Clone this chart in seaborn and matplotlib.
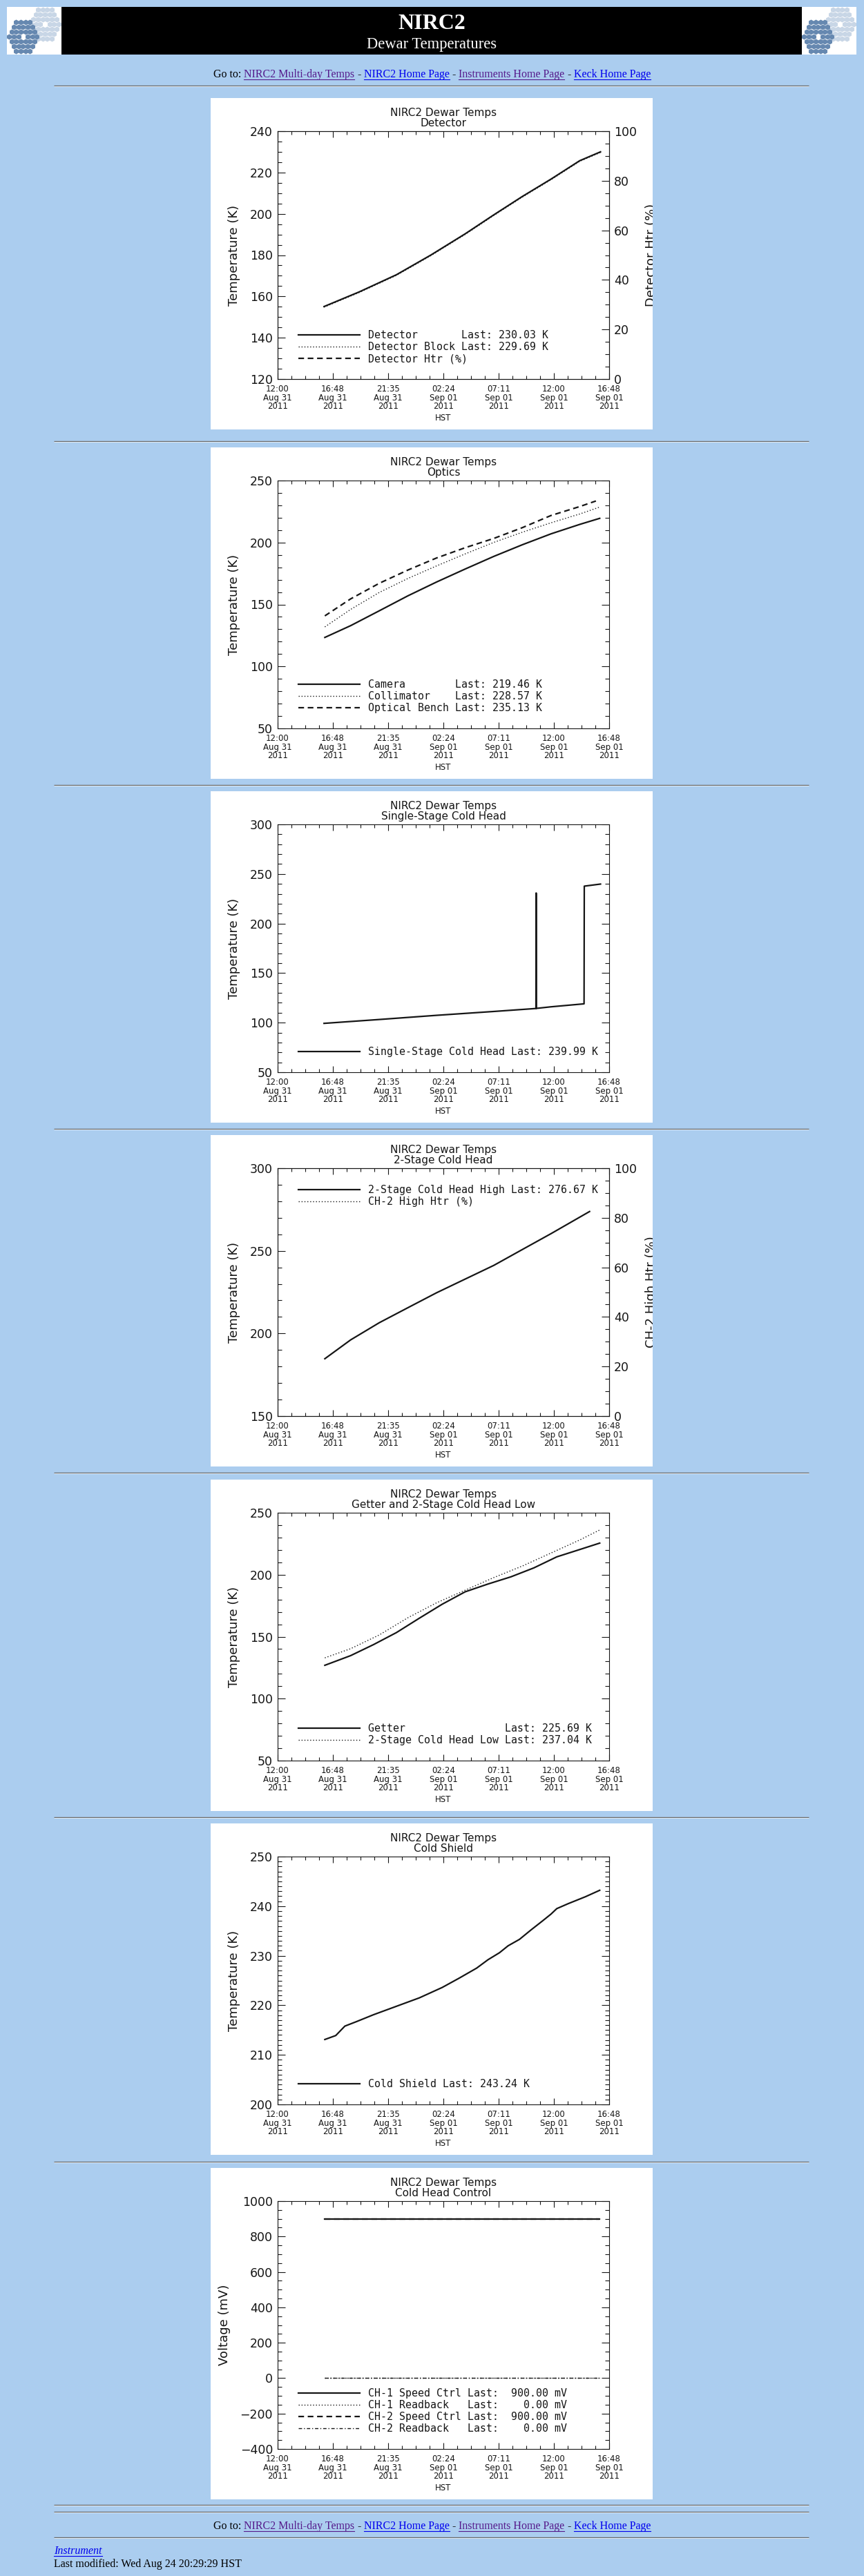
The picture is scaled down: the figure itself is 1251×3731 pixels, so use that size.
import matplotlib
matplotlib.use("Agg")
import matplotlib.pyplot as plt
from matplotlib.font_manager import FontProperties
from matplotlib.lines import Line2D
from matplotlib.patches import Rectangle
from matplotlib.ticker import MultipleLocator
import seaborn as sns

W, H, DPI = 1251, 3731, 100
PAGE_BG = "#abcdef"
INK = "#151515"
LINK = "#0000ee"
VISITED = "#551a8b"

# ---------------- data (hours after 12:00 HST, Aug 31 2011) ----------------
TIME_TICKS = [0.0, 4.8, 9.6, 14.4, 19.2, 24.0, 28.8]
TIME_LABELS = ["12:00\nAug 31\n2011", "16:48\nAug 31\n2011", "21:35\nAug 31\n2011",
               "02:24\nSep 01\n2011", "07:11\nSep 01\n2011", "12:00\nSep 01\n2011",
               "16:48\nSep 01\n2011"]

DET_T = [4.03, 7.09, 10.32, 13.30, 16.29, 18.78, 21.26, 23.75, 26.24, 28.05]
DET_TEMP = [155.1, 162.2, 170.5, 180.0, 190.3, 199.5, 208.4, 216.8, 225.7, 230.0]
DET_BLOCK = [154.8, 161.9, 170.2, 179.7, 190.0, 199.2, 208.1, 216.5, 225.4, 229.7]

OPT_T = [4.1, 6.34, 8.83, 11.32, 13.8, 16.29, 18.78, 21.26, 23.75, 26.24, 27.98]
CAMERA = [123.4, 132.9, 144.9, 157.0, 168.1, 178.6, 188.8, 198.2, 207.0, 214.6, 219.5]
COLLIMATOR = [131.9, 146.0, 159.7, 171.0, 181.1, 190.8, 200.1, 208.3, 215.9, 223.0, 228.6]
BENCH_T = [4.1, 6.34, 8.83, 11.32, 13.8, 16.29, 18.78, 21.26, 23.75, 26.24, 27.65]
BENCH = [140.8, 154.5, 167.1, 177.8, 187.5, 195.8, 203.3, 212.0, 221.8, 229.0, 233.5]

SS_T = [4.03, 8.83, 13.8, 18.78, 22.44, 22.46, 22.48, 23.75, 26.62, 26.64, 28.05]
SS_TEMP = [99.3, 103.2, 107.4, 111.3, 114.3, 230.8, 114.4, 116.0, 119.0, 237.7, 239.8]

HI_T = [4.1, 6.34, 8.83, 11.32, 13.8, 16.29, 18.78, 21.26, 23.75, 27.1]
HI_TEMP = [184.7, 196.1, 206.5, 215.6, 224.6, 232.9, 241.2, 250.8, 260.4, 273.8]

GETTER_T = [4.1, 6.34, 8.33, 10.32, 12.31, 14.3, 16.29, 18.28, 20.27, 22.26, 24.25, 26.24, 27.98]
GETTER = [126.9, 134.7, 143.6, 153.3, 164.9, 176.2, 186.2, 192.5, 198.3, 205.5, 214.4, 220.3, 225.5]
LOW_T = [4.1, 6.34, 8.83, 11.32, 13.8, 16.29, 18.78, 21.26, 23.75, 26.24, 27.98]
LOW = [132.9, 140.3, 151.4, 165.3, 177.3, 187.5, 197.7, 207.0, 217.5, 228.0, 236.1]

CS_T = [4.1, 5.05, 5.84, 6.84, 8.33, 10.32, 12.31, 14.3, 15.79, 17.29, 18.28,
        19.27, 20.02, 21.01, 22.01, 23.0, 23.75, 24.25, 25.24, 26.74, 27.98]
CS_TEMP = [213.1, 213.9, 215.8, 216.7, 218.1, 219.8, 221.5, 223.6, 225.5, 227.5, 229.2,
           230.6, 232.0, 233.3, 235.2, 237.0, 238.4, 239.5, 240.5, 241.9, 243.2]

CTL_T = [4.1, 27.98]
CH1_SPEED = [900.0, 900.0]
CH1_READ = [0.0, 0.0]
CH2_SPEED = [900.0, 900.0]
CH2_READ = [0.0, 0.0]

STYLES = {
    "solid": dict(linestyle="-", linewidth=1.6),
    "dotted": dict(linestyle=(0, (1, 2.0)), linewidth=1.0),
    "dashed": dict(linestyle=(0, (3.7, 2.4)), linewidth=1.6),
    "dashdot": dict(linestyle=(0, (3.5, 2, 1, 2)), linewidth=1.0),
}

PANEL_TOPS = [142, 648, 1146, 1644, 2143, 2641, 3140]
RULES = [124, 639, 1137, 1635, 2133, 2632, 3131, 3628, 3638, 3675]

fig = plt.figure(figsize=(W / DPI, H / DPI), dpi=DPI)
fig.patch.set_facecolor(PAGE_BG)
bg = fig.add_axes([0, 0, 1, 1])
bg.set_xlim(0, W)
bg.set_ylim(0, H)
bg.axis("off")

serif = FontProperties(family="Liberation Serif", size=11.5)
mono = FontProperties(family="DejaVu Sans Mono", size=10.7)
renderer = fig.canvas.get_renderer()


def text_w(s, fp):
    return renderer.get_text_width_height_descent(s, fp, ismath=False)[0]


def link_row(y_base, pieces, center=None, left=None, fp=serif):
    sp = text_w("x x", fp) - text_w("xx", fp)
    widths = [text_w(p[0], fp) for p in pieces]
    total = sum(widths) + sp * (len(pieces) - 1)
    x = center - total / 2 if center is not None else left
    for (s, color, under), w in zip(pieces, widths):
        bg.text(x, H - y_base, s, color=color, fontproperties=fp, ha="left", va="baseline")
        if under:
            bg.plot([x, x + w], [H - y_base - 2.5] * 2, color=color, lw=0.8)
        x += w + sp


def mirror(cx, cy, color):
    # 36 hexagonal segments around an empty centre
    xs, ys = [], []
    for q in range(-3, 4):
        for r in range(-3, 4):
            if abs(q + r) > 3 or (q == 0 and r == 0):
                continue
            xs.append(cx + 6.7 * (q + r / 2))
            ys.append(H - (cy + 7.0 * r))
    bg.scatter(xs, ys, marker="h", s=34, color=color, linewidths=0)


def keck_logo(x0):
    bg.add_patch(Rectangle((x0, H - 79), 79, 69, facecolor="white", lw=0))
    mirror(x0 + 55, 35, "#c8d6e6")
    mirror(x0 + 23.3, 53.3, "#6688b0")


# ---------------- page chrome ----------------
keck_logo(10)
keck_logo(1161)
bg.add_patch(Rectangle((89, H - 79), 1072, 69, facecolor="black", lw=0))
bg.text(625, H - 41.5, "NIRC2", color="white", ha="center", va="baseline",
        fontproperties=FontProperties(family="Liberation Serif", weight="bold", size=23))
bg.text(625, H - 70, "Dewar Temperatures", color="white", ha="center", va="baseline",
        fontproperties=FontProperties(family="Liberation Serif", size=16.3))

GOTO = [("Go to:", "black", False), ("NIRC2 Multi-day Temps", VISITED, True),
        ("-", "black", False), ("NIRC2 Home Page", LINK, True), ("-", "black", False),
        ("Instruments Home Page", VISITED, True), ("-", "black", False),
        ("Keck Home Page", LINK, True)]
link_row(112, GOTO, center=625.5)
link_row(3663, GOTO, center=625.5)
link_row(3699, [("Instrument", LINK, True)], left=78,
         fp=FontProperties(family="Liberation Serif", style="italic", size=11.5))
link_row(3718, [("Last modified: Wed Aug 24 20:29:29 HST", "black", False)], left=78)

for y in RULES:
    bg.plot([78, 1171], [H - y, H - y], color="#6a6a6a", lw=1.0, solid_capstyle="butt")
    bg.plot([78, 1171], [H - y - 1.3, H - y - 1.3], color="#e4edf6", lw=0.7,
            solid_capstyle="butt")


# ---------------- plot panels ----------------
def style_axis(a, ymajor, yminor):
    a.tick_params(axis="both", which="both", direction="in", colors=INK, width=0.8)
    a.tick_params(axis="y", which="major", length=7.9, labelsize=12.5, pad=5)
    a.tick_params(axis="y", which="minor", length=4.6)
    a.yaxis.set_major_locator(MultipleLocator(ymajor))
    a.yaxis.set_minor_locator(MultipleLocator(yminor))
    for s in a.spines.values():
        s.set_color(INK)
        s.set_linewidth(0.8)


def panel(top, subtitle, ylim, ymajor, yminor, ylabel, series, labels,
          upper=False, right=None):
    rect = Rectangle((305, H - top - 480), 640, 480, facecolor="white", lw=0)
    bg.add_patch(rect)
    ax = fig.add_axes([402 / W, (H - top - 48 - 359) / H, 480 / W, 359 / H])
    ax2 = ax.twinx() if right is not None else None

    handles = []
    for t, v, style in series:
        if t is not None:
            sns.lineplot(x=t, y=v, ax=ax, color=INK, estimator=None, sort=False,
                         legend=False, **STYLES[style])
        handles.append(Line2D([], [], color=INK, **STYLES[style]))

    ax.set_xlim(0, 28.8)
    ax.set_ylim(*ylim)
    ax.set_xticks(TIME_TICKS, TIME_LABELS, linespacing=0.92)
    ax.xaxis.set_minor_locator(MultipleLocator(1.2))
    style_axis(ax, ymajor, yminor)
    ax.tick_params(axis="both", which="both", top=True, right=ax2 is None)
    ax.tick_params(axis="x", which="major", length=6.7, labelsize=8.5, pad=6)
    ax.tick_params(axis="x", which="minor", length=3.6)
    ax.set_xlabel("HST", fontsize=8.5, color=INK, labelpad=3)
    ax.set_ylabel(ylabel, fontsize=13, color=INK, labelpad=10)
    ax.set_title("NIRC2 Dewar Temps\n" + subtitle, fontsize=11, color=INK,
                 linespacing=0.97, pad=5)

    if ax2 is not None:
        rlabel, rlim, rmajor, rminor = right
        ax2.set_ylim(*rlim)
        style_axis(ax2, rmajor, rminor)
        ax2.set_ylabel(rlabel, fontsize=13, color=INK, labelpad=9)
        ax2.yaxis.label.set_clip_path(rect)

    if upper:
        loc, anchor = "upper left", (0.0625, 0.932)
    else:
        loc, anchor = "lower left", (0.0625, 0.061)
    ax.legend(handles, labels, loc=loc, bbox_to_anchor=anchor, frameon=False,
              prop=mono, handlelength=6.0, handletextpad=0.8, labelspacing=0.13,
              borderpad=0, borderaxespad=0, labelcolor=INK)


# heater traces are not visible in the source plots, so they only appear in the legends
panel(PANEL_TOPS[0], "Detector", (120, 240), 20, 5, "Temperature (K)",
      [(DET_T, DET_TEMP, "solid"), (DET_T, DET_BLOCK, "dotted"), (None, None, "dashed")],
      ["Detector       Last: 230.03 K", "Detector Block Last: 229.69 K", "Detector Htr (%)"],
      right=("Detector Htr (%)", (0, 100), 20, 5))

panel(PANEL_TOPS[1], "Optics", (50, 250), 50, 10, "Temperature (K)",
      [(OPT_T, CAMERA, "solid"), (OPT_T, COLLIMATOR, "dotted"), (BENCH_T, BENCH, "dashed")],
      ["Camera        Last: 219.46 K", "Collimator    Last: 228.57 K",
       "Optical Bench Last: 235.13 K"])

panel(PANEL_TOPS[2], "Single-Stage Cold Head", (50, 300), 50, 10, "Temperature (K)",
      [(SS_T, SS_TEMP, "solid")],
      ["Single-Stage Cold Head Last: 239.99 K"])

panel(PANEL_TOPS[3], "2-Stage Cold Head", (150, 300), 50, 10, "Temperature (K)",
      [(HI_T, HI_TEMP, "solid"), (None, None, "dotted")],
      ["2-Stage Cold Head High Last: 276.67 K", "CH-2 High Htr (%)"],
      upper=True, right=("CH-2 High Htr (%)", (0, 100), 20, 5))

panel(PANEL_TOPS[4], "Getter and 2-Stage Cold Head Low", (50, 250), 50, 10,
      "Temperature (K)",
      [(GETTER_T, GETTER, "solid"), (LOW_T, LOW, "dotted")],
      ["Getter                Last: 225.69 K", "2-Stage Cold Head Low Last: 237.04 K"])

panel(PANEL_TOPS[5], "Cold Shield", (200, 250), 10, 1, "Temperature (K)",
      [(CS_T, CS_TEMP, "solid")],
      ["Cold Shield Last: 243.24 K"])

panel(PANEL_TOPS[6], "Cold Head Control", (-400, 1000), 200, 50, "Voltage (mV)",
      [(CTL_T, CH1_SPEED, "solid"), (CTL_T, CH1_READ, "dotted"),
       (CTL_T, CH2_SPEED, "dashed"), (CTL_T, CH2_READ, "dashdot")],
      ["CH-1 Speed Ctrl Last:  900.00 mV", "CH-1 Readback   Last:    0.00 mV",
       "CH-2 Speed Ctrl Last:  900.00 mV", "CH-2 Readback   Last:    0.00 mV"])

fig.savefig("out.png", dpi=DPI, facecolor=fig.get_facecolor())
